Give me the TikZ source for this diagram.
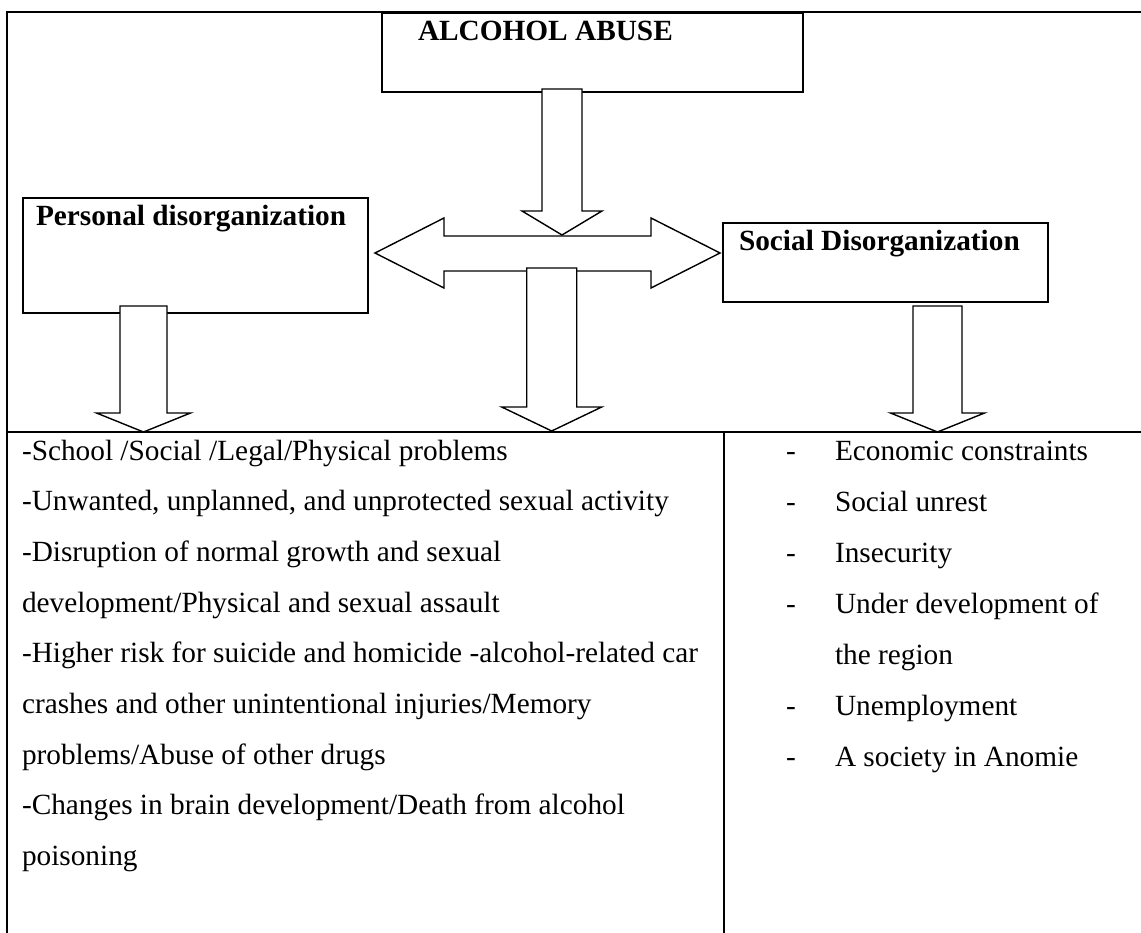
\documentclass[tikz,border=0pt]{standalone}
\usepackage{fontspec}
\setmainfont{Liberation Serif}
\newcommand{\blockdown}[7]{% name, cx, top, shaft hw, head base, head hw, tip
  \draw[blockarrow] (#2-#4,#3) -- (#2+#4,#3) -- (#2+#4,#5) -- (#2+#6,#5) -- (#2,#7) coordinate (#1tip)
    -- (#2-#6,#5) -- (#2-#4,#5) -- cycle;}
\begin{document}
\begin{tikzpicture}[x=1pt,y=-1pt,
  every node/.style={inner sep=0pt, outer sep=0pt, font=\fontsize{29.3}{35}\selectfont},
  box/.style={draw, line width=1.8pt, anchor=north west, rectangle},
  title/.style={anchor=base west, font=\fontsize{29.3}{35}\selectfont\bfseries},
  item/.style={anchor=base west},
  blockarrow/.style={draw, fill=white, line width=1.4pt, line join=miter},
  frame/.style={line width=1.8pt},
  rule/.style={line width=2.4pt}]
\useasboundingbox (0,0) rectangle (1141,933);
% frame and table
\coordinate (ftl) at (7,12);
\coordinate (ftr) at (1141,12);
\coordinate (fbl) at (7,933);
\coordinate (tl) at (7,432);
\coordinate (tr) at (1141,432);
\coordinate (dt) at (724,432);
\coordinate (db) at (724,933);
\draw[frame] (ftr) -- (ftl) -- (fbl);
\draw[rule] (tl) -- (tr);
\draw[frame] (dt) -- (db);
% boxes
\node[box, minimum width=421pt, minimum height=79pt] (abuse) at (382,13) {};
\node[box, minimum width=345pt, minimum height=115pt] (personal) at (23,198) {};
\node[box, minimum width=325pt, minimum height=79pt] (social) at (723,223) {};
\node[title] (abuseT) at (418,40.5) {ALCOHOL ABUSE};
\node[title] (personalT) at (36,226) {Personal disorganization};
\node[title] (socialT) at (739,251) {Social Disorganization};
% arrows
\blockdown{a1}{562}{89}{20}{211}{40}{235}
\draw[blockarrow] (375,253) coordinate (dl) -- (444,218) -- (444,236) -- (651,236) -- (651,218) -- (720,253) coordinate (dr)
  -- (651,288) -- (651,271) -- (444,271) -- (444,288) -- cycle;
\blockdown{a2}{143.5}{306}{23.5}{413}{47}{432}
\blockdown{a3}{551.7}{268}{25}{407}{50}{431}
\blockdown{a4}{937.5}{306}{24.5}{413}{47}{432}
% left column
\node[item] (l1) at (22,460) {-School /Social /Legal/Physical problems};
\node[item] (l2) at (22,510.7) {-Unwanted, unplanned, and unprotected sexual activity};
\node[item] (l3) at (22,561.4) {-Disruption of normal growth and sexual};
\node[item] (l4) at (22,612.1) {development/Physical and sexual assault};
\node[item] (l5) at (22,662.8) {-Higher risk for suicide and homicide -alcohol-related car};
\node[item] (l6) at (22,713.5) {crashes and other unintentional injuries/Memory};
\node[item] (l7) at (22,764.2) {problems/Abuse of other drugs};
\node[item] (l8) at (22,814.9) {-Changes in brain development/Death from alcohol};
\node[item] (l9) at (22,865.6) {poisoning};
% right column
\foreach \y/\t [count=\i] in {460/Economic constraints, 511/Social unrest, 562/Insecurity, 613/Under development of, 715/Unemployment, 766/A society in Anomie}{
  \node[item] (rd\i) at (786,\y) {-};
  \node[item] (r\i) at (835,\y) {\t};
}
\node[item] (r4b) at (835,664) {the region};
\end{tikzpicture}
\end{document}
